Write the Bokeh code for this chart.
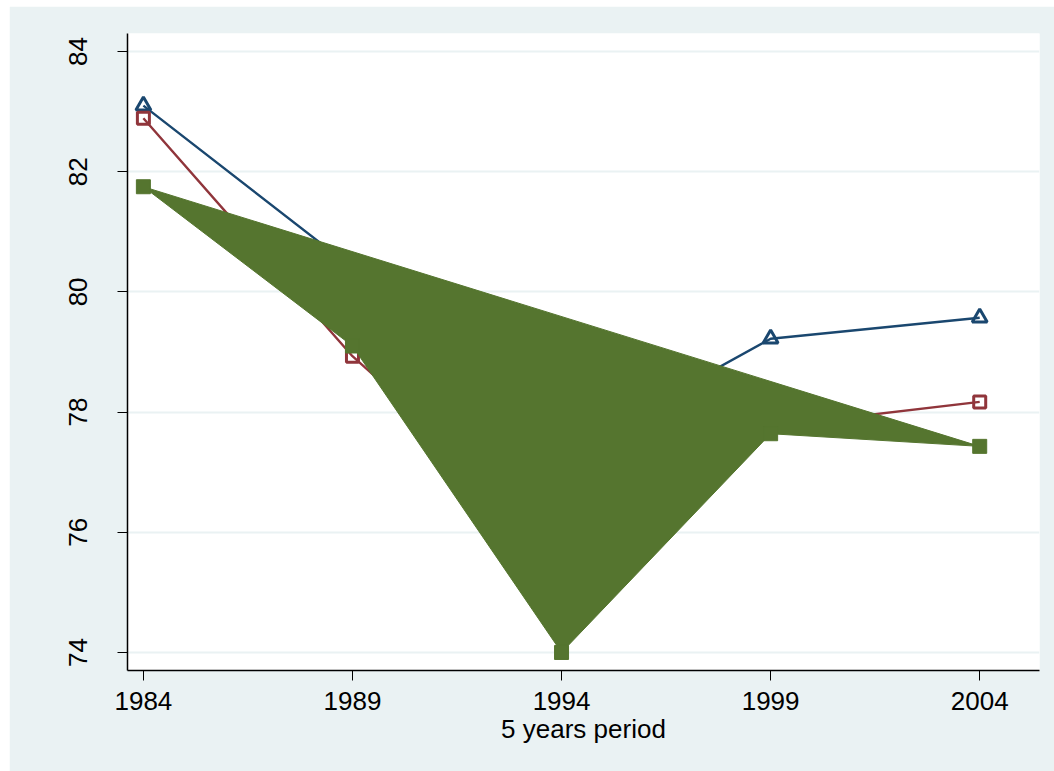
from bokeh.plotting import figure
from bokeh.models import Range1d, FixedTicker
from bokeh.embed import file_html
from bokeh.resources import INLINE

# Period midpoints and the three series
years = [1984, 1989, 1994, 1999, 2004]
series_navy = [83.10, 80.40, 77.30, 79.22, 79.57]
series_maroon = [82.89, 78.93, 75.80, 77.76, 78.17]
series_green = [81.75, 79.10, 74.00, 77.64, 77.43]

x_ticks = [1984, 1989, 1994, 1999, 2004]
y_ticks = [74, 76, 78, 80, 82, 84]

NAVY = "#1A476F"
MAROON = "#90353B"
GREEN = "#55752F"
REGION = "#EAF2F3"
FONT = "Liberation Sans"

p = figure(
    width=1045, height=765,
    output_backend="svg", toolbar_location=None,
    x_range=Range1d(1983.62, 2005.43),
    y_range=Range1d(73.70, 84.30),
    background_fill_color="white",
    border_fill_color=REGION,
    outline_line_color=None,
    min_border_left=118, min_border_right=15,
    min_border_top=27, min_border_bottom=101,
)
p.margin = (6, 0, 0, 9)

# Lines and hollow markers
p.line(years, series_navy, line_color=NAVY, line_width=2.4)
p.scatter(years, series_navy, marker="triangle", size=15,
          fill_color=None, line_color=NAVY, line_width=3)

p.line(years, series_maroon, line_color=MAROON, line_width=2.4)
p.scatter(years, series_maroon, marker="square", size=12,
          fill_color=None, line_color=MAROON, line_width=3)

# Green series drawn as a closed filled shape with solid squares
p.patch(years, series_green, fill_color=GREEN, line_color=GREEN, line_width=1)
p.scatter(years, series_green, marker="square", size=14,
          fill_color=GREEN, line_color=GREEN)

# Axes
p.xaxis.ticker = FixedTicker(ticks=x_ticks)
p.yaxis.ticker = FixedTicker(ticks=y_ticks)
p.xaxis.axis_label = "5 years period"

for ax in (p.xaxis[0], p.yaxis[0]):
    ax.axis_line_color = "black"
    ax.axis_line_width = 1.5
    ax.major_tick_line_color = "black"
    ax.major_tick_line_width = 1
    ax.major_tick_out = 10
    ax.major_tick_in = 0
    ax.minor_tick_line_color = None
    ax.major_label_text_font = FONT
    ax.major_label_text_color = "black"
    ax.axis_label_text_font = FONT
    ax.axis_label_text_font_style = "normal"
    ax.axis_label_text_color = "black"

p.xaxis.major_label_text_font_size = "26px"
p.xaxis.major_label_standoff = 11
p.xaxis.axis_label_text_font_size = "26px"
p.xaxis.axis_label_standoff = 1

p.yaxis.major_label_text_font_size = "26px"
p.yaxis.major_label_orientation = "vertical"
p.yaxis.major_label_standoff = 30

# Grid
p.xgrid.grid_line_color = None
p.ygrid.grid_line_color = REGION
p.ygrid.grid_line_width = 2

open("out.html", "w").write(file_html(p, INLINE))
